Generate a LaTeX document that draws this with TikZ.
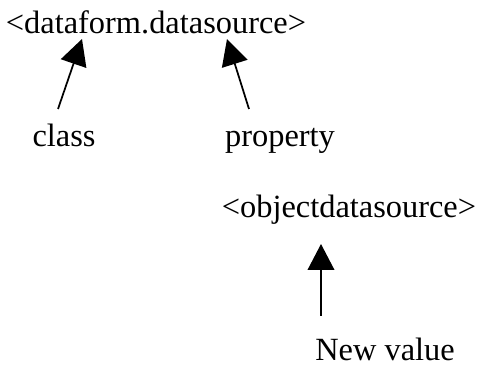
\documentclass[tikz,border=0pt]{standalone}
\usepackage{fontspec}
\setmainfont{Liberation Serif}
\usetikzlibrary{arrows.meta}
\tikzset{lbl/.style={inner sep=0pt,anchor=base,font=\fontsize{24.3}{28}\selectfont},
         pointer/.style={line width=1.3pt,-{Triangle[length=19.5pt,width=20pt]}}}

\begin{document}
\begin{tikzpicture}[x=0.75pt,y=-0.75pt]
        \useasboundingbox (0,0) rectangle (480,367);
        % texts
        \node[lbl] (src) at (156,34) {<dataform.datasource>};
        \node[lbl] (cls) at (64,147) {class};
        \node[lbl] (prop) at (280,147) {property};
        \node[lbl] (obj) at (349,218) {<objectdatasource>};
        \node[lbl] (val) at (385,361) {New value};

        % arrow ends
        \coordinate (clsTail) at (58,109);
        \coordinate (clsTip) at (82,39);
        \coordinate (propTail) at (249,109);
        \coordinate (propTip) at (227,39);
        \coordinate (valTail) at (321,316);
        \coordinate (valTip) at (321,244);

        \draw[pointer] (clsTail) -- (clsTip);
        \draw[pointer] (propTail) -- (propTip);
        \draw[pointer] (valTail) -- (valTip);
\end{tikzpicture}
\end{document}
